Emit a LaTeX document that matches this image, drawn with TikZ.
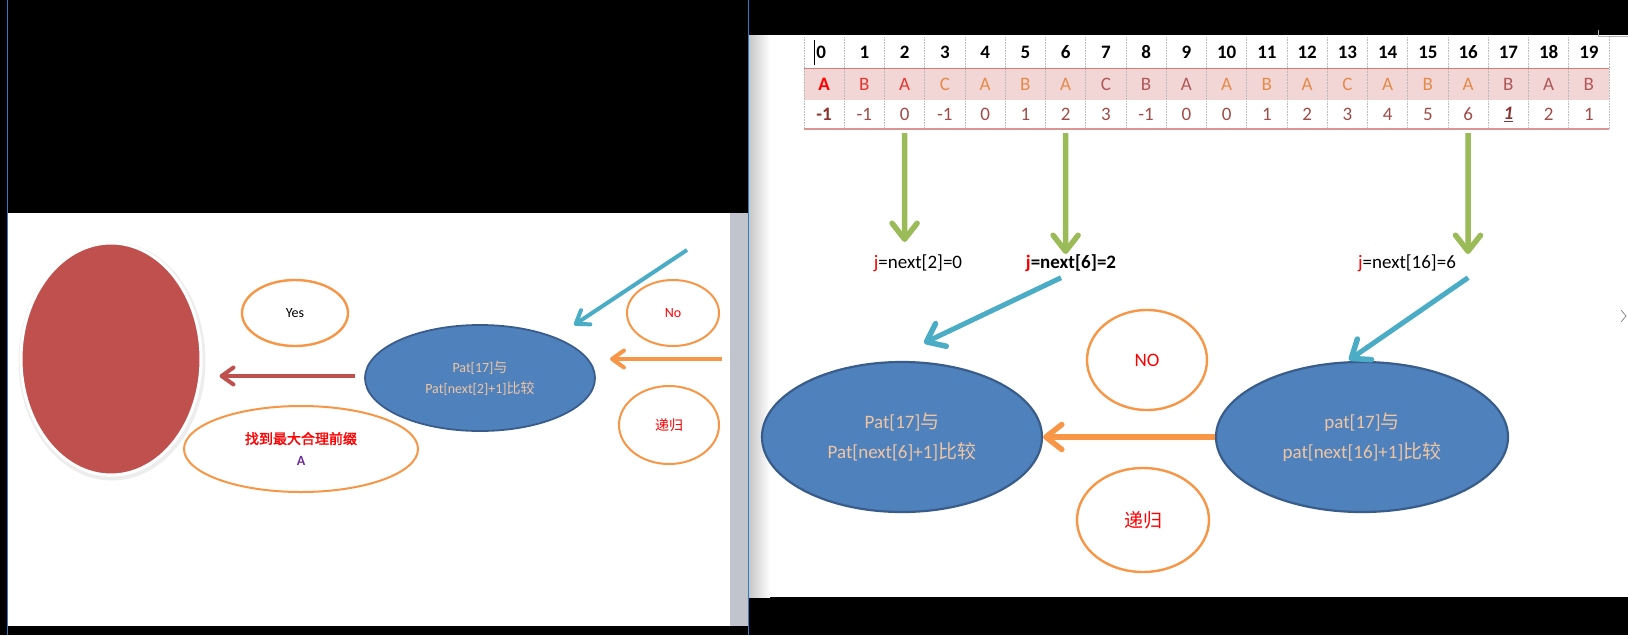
\documentclass[tikz,border=0pt]{standalone}
\usepackage{fontspec}
\setmainfont{Carlito}
\newfontfamily\cjk[AutoFakeBold=2]{Noto Sans CJK SC}
\usetikzlibrary{arrows.meta,shapes.geometric}
\definecolor{ogreen}{HTML}{9BBB59}
\definecolor{oblue}{HTML}{4BACC6}
\definecolor{oorange}{HTML}{F79646}
\definecolor{ored}{HTML}{C0504D}
\definecolor{efill}{HTML}{4F81BD}
\definecolor{eborder}{HTML}{385D8A}
\definecolor{etext}{HTML}{F0C6A2}
\definecolor{pinkrow}{HTML}{F2D6D5}
\definecolor{numcol}{HTML}{A04C48}
\definecolor{numdark}{HTML}{8B3432}
\definecolor{letR}{HTML}{E8362F}
\definecolor{letO}{HTML}{E48A4A}
\definecolor{letB}{HTML}{B0575A}
\definecolor{scrollgray}{HTML}{C1C4CD}
\definecolor{winblue}{HTML}{2D7CC8}
\definecolor{purpleA}{HTML}{7030A0}
\begin{document}
\begin{tikzpicture}[x=1pt,y=-1pt,
  blueell/.style={ellipse,draw=eborder,line width=2.2pt,fill=efill,inner sep=0pt,text=etext,align=center},
  ocirc/.style={ellipse,draw=oorange,line width=2.4pt,fill=white,inner sep=0pt,align=center},
  bigarrow/.style={line width=5.5pt,-{Straight Barb[length=16pt,width=25pt,line width=5.5pt,round]}},
  smallarrow/.style={line width=4pt,-{Straight Barb[length=12pt,width=17pt,line width=4pt,round]}},
  cellh/.style={minimum width=40.25pt,minimum height=31pt,inner sep=0pt,font=\fontsize{19}{22}\selectfont\bfseries},
  celll/.style={minimum width=40.25pt,minimum height=32pt,inner sep=0pt,fill=pinkrow,font=\fontsize{19}{22}\selectfont},
  celln/.style={minimum width=40.25pt,minimum height=29pt,inner sep=0pt,text=numcol,font=\fontsize{19}{22}\selectfont},
  jlabel/.style={inner sep=1pt,font=\fontsize{19}{22}\selectfont}
]
% background
\fill[black] (0,0) rectangle (1628,635);
\useasboundingbox (0,0) rectangle (1628,635);
% left panel
\fill[white] (8,213) rectangle (730,626);
\fill[scrollgray] (730,213) rectangle (748,626);
\draw[winblue,line width=0.8pt] (7,0) -- (7,635);
\draw[winblue,line width=0.8pt] (748.5,0) -- (748.5,635);
% right panel
\fill[white] (750,35) rectangle (1628,597);
\shade[left color=black!22,right color=white] (749,35) rectangle (770,597);
\draw[gray!60,line width=0.6pt] (1598,30) -- (1598,36) -- (1628,36);
\draw[gray,line width=0.7pt] (1621,310) -- (1626,316) -- (1621,322);

% ---------- table ----------
\foreach \i in {0,...,19} {
  \pgfmathsetmacro\cx{804+40.25*(\i+0.5)}
  \node[cellh] (h\i) at (\cx,52.5) {\ifnum\i=0 \else\i\fi};
}
\node[inner sep=0pt,font=\fontsize{19}{22}\selectfont\bfseries] (hz) at ([xshift=-3pt]h0.center) {0};
\draw[black,line width=1.1pt] ([xshift=-10pt,yshift=12.5pt]h0.center) -- ([xshift=-10pt,yshift=-12.5pt]h0.center);
\foreach \i/\ch/\co in {0/A/red,1/B/letR,2/A/letR,3/C/letO,4/A/letO,5/B/letO,6/A/letO,7/C/letB,8/B/letB,9/A/letB,10/A/letO,11/B/letO,12/A/letO,13/C/letO,14/A/letO,15/B/letO,16/A/letO,17/B/letB,18/A/letB,19/B/letB} {
  \pgfmathsetmacro\cx{804+40.25*(\i+0.5)}
  \node[celll,text=\co] (l\i) at (\cx,84) {\ifnum\i=0 \bfseries\fi\ch};
}
\foreach \i/\v in {0/-1,1/-1,2/0,3/-1,4/0,5/1,6/2,7/3,8/-1,9/0,10/0,11/1,12/2,13/3,14/4,15/5,16/6,17/1,18/2,19/1} {
  \pgfmathsetmacro\cx{804+40.25*(\i+0.5)}
  \node[celln] (n\i) at (\cx,114.5) {\ifnum\i=17 \textcolor{numdark}{\underline{\bfseries\itshape 1}}\else\ifnum\i=0 \textcolor{numdark}{\bfseries -1}\else\v\fi\fi};
}
% grid
\foreach \k in {0,...,20} {
  \draw[gray!55,densely dotted,line width=0.6pt] (804+40.25*\k,37) -- (804+40.25*\k,129);
}
\draw[white,line width=1pt] (l0.south west) -- (l19.south east);
\draw[ored!75,line width=1.2pt] (h0.south west) -- (h19.south east);
\draw[ored!60,line width=1.6pt] (n0.south west) -- (n19.south east);

% ---------- right panel shapes ----------
\node[blueell,minimum width=280pt,minimum height=150pt,font=\fontsize{19}{30}\selectfont] (L) at (902,437) {Pat[17]{\cjk 与}\\Pat[next[6]+1]{\cjk 比较}};
\node[blueell,minimum width=292pt,minimum height=150pt,font=\fontsize{19}{30}\selectfont] (Rt) at (1362,437) {pat[17]{\cjk 与}\\pat[next[16]+1]{\cjk 比较}};
\node[ocirc,minimum width=120pt,minimum height=100pt,text=red,font=\fontsize{19}{22}\selectfont] (NO) at (1147,360) {NO};
\node[ocirc,minimum width=132pt,minimum height=104pt,text=red,font=\fontsize{19}{22}\selectfont\cjk] (DG) at (1143,520) {递归};

\node[jlabel] (j2) at (918,263) {\textcolor{red}{j}=next[2]=0};
\node[jlabel,font=\fontsize{19}{22}\selectfont\bfseries] (j6) at (1071,263) {\textcolor{red}{j}=next[6]=2};
\node[jlabel] (j16) at (1407,263) {\textcolor{red}{j}=next[16]=6};

\coordinate (g2) at (904.6,242);
\coordinate (g6) at (1065.6,254);
\coordinate (g16) at (1468,254);
\draw[ogreen,bigarrow] ([yshift=-4pt]n2.south) -- (g2);
\draw[ogreen,bigarrow] ([yshift=-4pt]n6.south) -- (g6);
\draw[ogreen,bigarrow] ([yshift=-4pt]n16.south) -- (g16);

\coordinate (b1) at (924,343);
\coordinate (b2) at (1349,360);
\draw[oblue,bigarrow,line width=5pt] ([xshift=-10pt,yshift=-5pt]j6.south) -- (b1);
\draw[oblue,bigarrow,line width=5pt] ([xshift=11pt,yshift=-5pt]j16.south east) -- (b2);
\draw[oorange,bigarrow,line width=6pt] (Rt.west) -- (L.east);

% ---------- left panel shapes ----------
\draw[gray!14,line width=4pt] (112,361) ellipse (91.5pt and 117.5pt);
\node[ellipse,fill=ored,draw=white,line width=3pt,minimum width=180pt,minimum height=232pt,inner sep=0pt] (Red) at (111,359) {};
\node[ocirc,minimum width=106pt,minimum height=66pt,font=\fontsize{14}{17}\selectfont] (Yes) at (295,313) {Yes};
\node[blueell,line width=1.8pt,minimum width=230pt,minimum height=106pt,font=\fontsize{14}{21}\selectfont] (lB) at (480,378) {Pat[17]{\cjk 与}\\Pat[next[2]+1]{\cjk 比较}};
\node[ocirc,line width=2pt,minimum width=92pt,minimum height=66pt,text=red,font=\fontsize{14}{17}\selectfont] (lNo) at (673,313) {No};
\node[ocirc,line width=2pt,minimum width=100pt,minimum height=78pt,text=red,font=\fontsize{14}{17}\selectfont\cjk] (lDG) at (669,425) {递归};
\node[ocirc,line width=2pt,minimum width=234pt,minimum height=86pt,font=\fontsize{14}{22}\selectfont] (Find) at (301,449) {{\cjk\bfseries\color{red}找到最大合理前缀}\\{\bfseries\color{purpleA}A}};

\draw[ored,smallarrow,shorten >=17pt] ([xshift=-9pt,yshift=2pt]lB.west) -- ([yshift=2pt]lB.west -| Red.east);
\coordinate (lo1) at (722,359);
\coordinate (lo2) at (610,359);
\draw[oorange,smallarrow] (lo1) -- (lo2);
\coordinate (lb1) at (687,250);
\coordinate (lb2) at (574,325);
\draw[oblue,smallarrow] (lb1) -- (lb2);
\end{tikzpicture}
\end{document}
